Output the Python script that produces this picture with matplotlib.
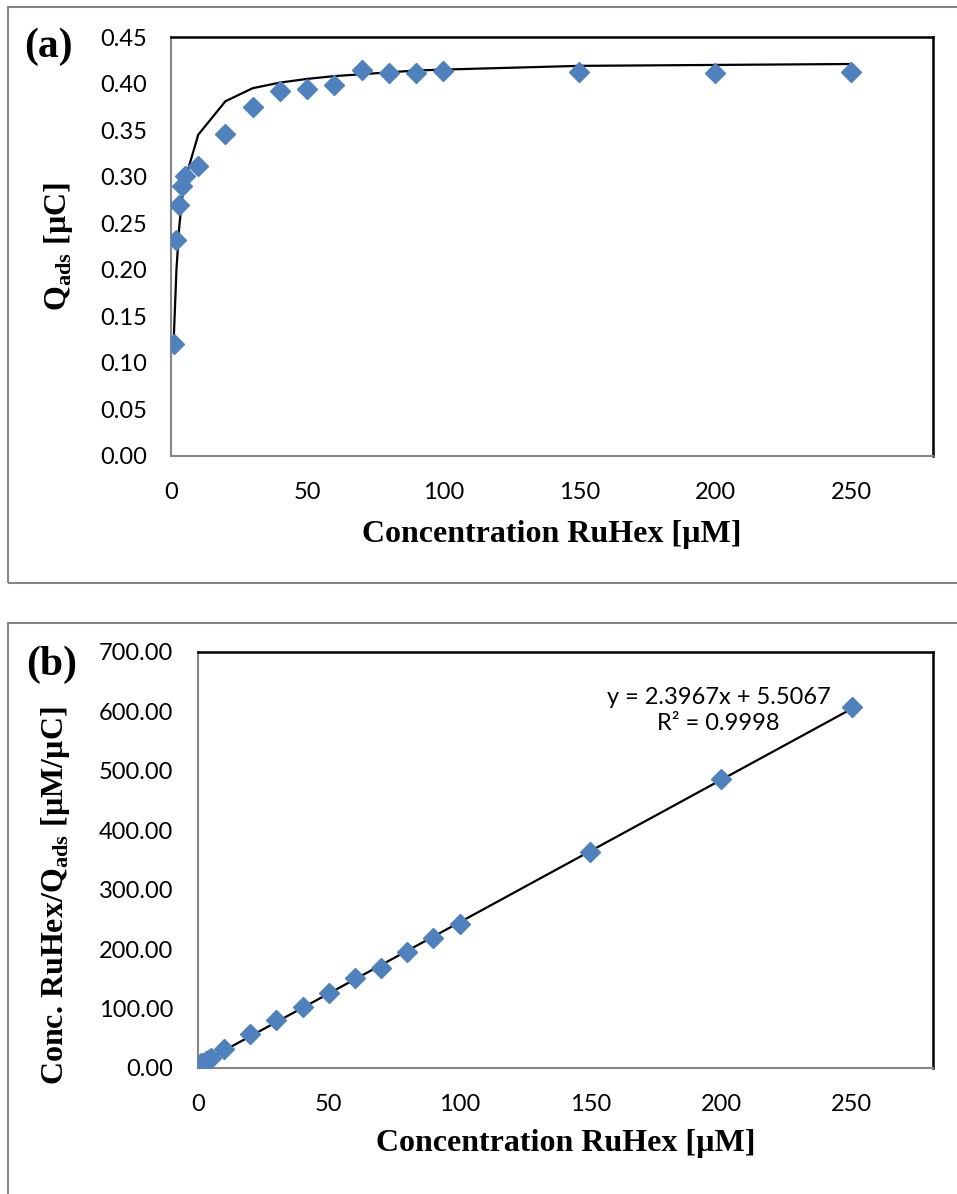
import matplotlib
matplotlib.use('Agg')
import matplotlib.pyplot as plt
from matplotlib.patches import Rectangle

# Data
conc = [1, 2, 3, 4, 5, 10, 20, 30, 40, 50, 60, 70, 80, 90, 100, 150, 200, 250]
q_ads = [0.120, 0.232, 0.270, 0.290, 0.301, 0.311, 0.346, 0.375, 0.392, 0.394,
         0.398, 0.415, 0.411, 0.411, 0.414, 0.412, 0.411, 0.412]
q_fit = [0.125, 0.200, 0.245, 0.275, 0.295, 0.345, 0.381, 0.395, 0.401, 0.405,
         0.408, 0.410, 0.412, 0.414, 0.415, 0.419, 0.420, 0.421]
ratio = [8.3, 8.6, 11.1, 13.8, 16.7, 32.2, 57.8, 80.0, 102.0, 127.0,
         151.0, 169.0, 195.0, 219.0, 241.5, 364.0, 487.0, 607.0]
fit_x = [1, 250]
fit_y = [7.9, 604.7]
eq_text = 'y = 2.3967x + 5.5067\nR² = 0.9998'

xticks = [0, 50, 100, 150, 200, 250]
yticks_a = [0.00, 0.05, 0.10, 0.15, 0.20, 0.25, 0.30, 0.35, 0.40, 0.45]
yticks_b = [0, 100, 200, 300, 400, 500, 600, 700]

plt.rcParams['mathtext.fontset'] = 'custom'
plt.rcParams['mathtext.rm'] = 'Liberation Serif:bold'
plt.rcParams['mathtext.bf'] = 'Liberation Serif:bold'

W, H = 957, 1194
fig = plt.figure(figsize=(W/100, H/100), dpi=100)

blue = '#4F81BD'
serif = {'family': 'Liberation Serif', 'weight': 'bold', 'size': 23}
tickfont = 'Lato'

# gray frames around each chart
fig.patches.append(Rectangle((8/W, 1-583/H), 1.0, (583-7)/H, transform=fig.transFigure,
                             fill=False, edgecolor='#868686', lw=1.5))
fig.patches.append(Rectangle((8/W, -0.01), 1.0, 1-623/H+0.01, transform=fig.transFigure,
                             fill=False, edgecolor='#868686', lw=1.5))


def style(ax):
    ax.spines['top'].set_color('black')
    ax.spines['right'].set_color('black')
    ax.spines['top'].set_linewidth(1.8)
    ax.spines['right'].set_linewidth(1.8)
    ax.spines['left'].set_color('#868686')
    ax.spines['bottom'].set_color('#868686')
    ax.spines['left'].set_linewidth(1.5)
    ax.spines['bottom'].set_linewidth(1.5)
    ax.tick_params(length=0, labelsize=17)
    ax.tick_params(axis='x', pad=19)
    for lab in ax.get_xticklabels() + ax.get_yticklabels():
        lab.set_fontfamily(tickfont)


# (a) adsorption isotherm
ax1 = fig.add_axes([171/W, 1-456/H, (933-171)/W, (456-37)/H])
ax1.plot(conc, q_fit, color='black', lw=1.6, zorder=2)
ax1.plot(conc, q_ads, 'D', color=blue, ms=10, mec=blue, zorder=3)
ax1.set_xlim(0, 280)
ax1.set_ylim(0, 0.45)
ax1.set_xticks(xticks)
ax1.set_yticks(yticks_a)
ax1.set_yticklabels(['%.2f' % v for v in yticks_a])
ax1.tick_params(axis='y', pad=17)
style(ax1)
ax1.set_xlabel('Concentration RuHex [µM]', fontdict=serif, labelpad=12)
ax1.set_ylabel(r'Q$_{\mathbf{ads}}$ [µC]', fontdict=serif)
ax1.yaxis.set_label_coords(-96/(933-171), 0.5)
fig.text(48/W, 1-47/H, '(a)', ha='center', va='center',
         family='Liberation Serif', weight='bold', size=30)

# (b) linearised plot
ax2 = fig.add_axes([198/W, 1-1068/H, (933-198)/W, (1068-652)/H])
ax2.plot(fit_x, fit_y, color='black', lw=1.6, zorder=2)
ax2.plot(conc, ratio, 'D', color=blue, ms=10, mec=blue, zorder=3)
ax2.set_xlim(0, 281)
ax2.set_ylim(0, 700)
ax2.set_xticks(xticks)
ax2.set_yticks(yticks_b)
ax2.set_yticklabels(['%.2f' % v for v in yticks_b])
ax2.tick_params(axis='y', pad=18)
style(ax2)
ax2.set_xlabel('Concentration RuHex [µM]', fontdict=serif, labelpad=10)
ax2.set_ylabel(r'Conc. RuHex/Q$_{\mathbf{ads}}$ [µM/µC]', fontdict=serif)
ax2.yaxis.set_label_coords(-126/(933-198), (1068-896)/(1068-652))
ax2.text(199, 602, eq_text, ha='center', va='center', family=tickfont,
         size=17, linespacing=1.3)
fig.text(52/W, 1-665/H, '(b)', ha='center', va='center',
         family='Liberation Serif', weight='bold', size=30)

fig.savefig('out.png', dpi=100)
